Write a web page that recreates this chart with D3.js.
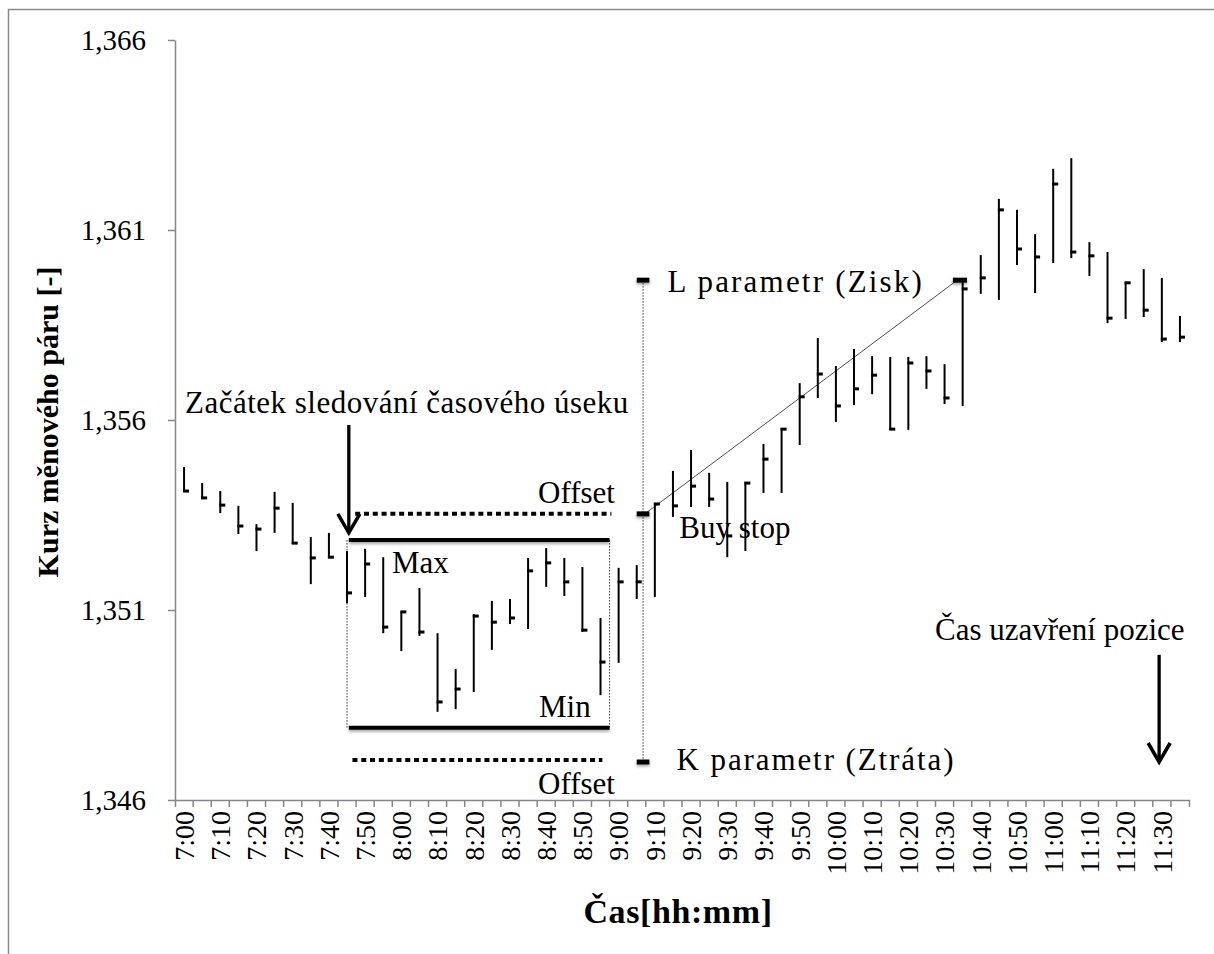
<!DOCTYPE html>
<html><head><meta charset="utf-8">
<script src="https://cdn.jsdelivr.net/npm/d3@7"></script>
<style>body{margin:0;background:#fff;} svg{display:block;}</style>
</head><body><svg id="chart" width="1214" height="954"></svg>
<script>
// ---- data ----
const categories = ["7:00","7:05","7:10","7:15","7:20","7:25","7:30","7:35","7:40","7:45",
  "7:50","7:55","8:00","8:05","8:10","8:15","8:20","8:25","8:30","8:35",
  "8:40","8:45","8:50","8:55","9:00","9:05","9:10","9:15","9:20","9:25",
  "9:30","9:35","9:40","9:45","9:50","9:55","10:00","10:05","10:10","10:15",
  "10:20","10:25","10:30","10:35","10:40","10:45","10:50","10:55","11:00","11:05",
  "11:10","11:15","11:20","11:25","11:30","11:35"];
const highs = [1.35476,1.35434,1.35413,1.35374,1.35326,1.35411,1.35382,1.35292,1.35303,1.35255,
  1.35261,1.35239,1.35095,1.35158,1.35039,1.34945,1.35089,1.35124,1.35129,1.35237,
  1.35263,1.35237,1.35213,1.35079,1.35211,1.35218,1.35382,1.35466,1.35521,1.35461,
  1.35437,1.35437,1.35537,1.35579,1.35697,1.35816,1.35742,1.35787,1.35768,1.35766,
  1.35766,1.35768,1.35747,1.35963,1.36034,1.36182,1.36153,1.36089,1.36261,1.36289,
  1.36068,1.36042,1.35963,1.35997,1.35974,1.35874];
const lows = [1.35411,1.35392,1.35355,1.35300,1.35255,1.35303,1.35274,1.35168,1.35237,1.35118,
  1.35134,1.35039,1.34992,1.35032,1.34832,1.34839,1.34884,1.34995,1.35063,1.35050,
  1.35161,1.35137,1.35042,1.34876,1.34961,1.35129,1.35134,1.35345,1.35371,1.35371,
  1.35239,1.35255,1.35408,1.35408,1.35534,1.35658,1.35595,1.35639,1.35668,1.35574,
  1.35574,1.35682,1.35642,1.35637,1.35932,1.35916,1.36008,1.35934,1.36013,1.36026,
  1.35979,1.35855,1.35866,1.35871,1.35805,1.35805];
const closes = [1.35413,1.35395,1.35376,1.35321,1.35313,1.35368,1.35276,1.35237,1.35239,1.35145,
  1.35221,1.35055,1.35095,1.35042,1.34858,1.34892,1.35084,1.35068,1.35079,1.35203,
  1.35224,1.35174,1.35047,1.34963,1.35174,1.35174,1.35379,1.35374,1.35426,1.35392,
  1.35295,1.35434,1.35497,1.35576,1.35661,1.35721,1.35637,1.35682,1.35718,1.35576,
  1.35750,1.35729,1.35658,1.35945,1.35974,1.36153,1.36050,1.36029,1.36221,1.36042,
  1.36032,1.35868,1.35961,1.35889,1.35813,1.35818];
const xTickLabels = ["7:00","7:10","7:20","7:30","7:40","7:50","8:00","8:10","8:20","8:30",
  "8:40","8:50","9:00","9:10","9:20","9:30","9:40","9:50","10:00","10:10",
  "10:20","10:30","10:40","10:50","11:00","11:10","11:20","11:30"];
const yTicks = [1.346, 1.351, 1.356, 1.361, 1.366];
const yTickLabels = ["1,346","1,351","1,356","1,361","1,366"];
// annotation levels (exchange rate values)
const levelL = 1.35968;      // L parametr (Zisk)
const levelBuyStop = 1.35353; // Buy stop / upper offset
const levelMax = 1.35284;
const levelMin = 1.34790;
const levelOffsetLow = 1.34705;
const levelK = 1.34700;      // K parametr (Ztráta)

// ---- layout ----
const svg = d3.select("#chart");
const serif = "'Liberation Serif','Times New Roman',serif";
const axisColor = "#868686";
const x = d3.scaleBand().domain(categories).range([175, 1189]).paddingInner(0).paddingOuter(0);
const y = d3.scaleLinear().domain([1.346, 1.366]).range([800, 40]);
const bw = x.bandwidth();
const xu = u => x.range()[0] + u * bw; // position in category units

const defs = svg.append("defs");
const f = defs.append("filter").attr("id","sh").attr("filterUnits","userSpaceOnUse")
  .attr("x",0).attr("y",0).attr("width",1214).attr("height",954);
f.append("feDropShadow").attr("dx",0).attr("dy",2).attr("stdDeviation",1.6).attr("flood-color","#000").attr("flood-opacity",0.35);

// outer frame
svg.append("rect").attr("x",8.5).attr("y",9.5).attr("width",1400).attr("height",1200)
  .attr("fill","none").attr("stroke","#8a8a8a").attr("stroke-width",1.5);

// y axis
const gy = svg.append("g").attr("transform","translate(175,0)")
  .call(d3.axisLeft(y).tickValues(yTicks).tickFormat((d,i)=>yTickLabels[i]).tickSize(7).tickSizeOuter(0).tickPadding(22));
gy.select(".domain").attr("stroke",axisColor).attr("stroke-width",1.5);
gy.selectAll(".tick line").attr("stroke",axisColor).attr("stroke-width",1.5);
gy.selectAll("text").attr("font-family",serif).attr("font-size",29).attr("fill","#000");

// x axis
const gx = svg.append("g").attr("transform","translate(0,800)")
  .call(d3.axisBottom(x).tickValues(xTickLabels).tickSize(0).tickSizeOuter(7));
gx.select(".domain").attr("stroke",axisColor).attr("stroke-width",1.5);
gx.selectAll(".tick line").remove();
gx.selectAll(".tick text")
  .attr("font-family",serif).attr("font-size",28).attr("fill","#000")
  .attr("transform","rotate(-90)").attr("x",-11).attr("y",0).attr("dy","0.35em")
  .style("text-anchor","end");
gx.selectAll("line.bt").data(d3.range(1, categories.length)).join("line").attr("class","bt")
  .attr("x1",i=>xu(i)).attr("x2",i=>xu(i)).attr("y1",0).attr("y2",7)
  .attr("stroke",axisColor).attr("stroke-width",1.5);

// axis titles
svg.append("text").attr("x",678).attr("y",923).attr("text-anchor","middle")
  .attr("font-family",serif).attr("font-weight","bold").attr("font-size",34).attr("letter-spacing",0.6).text("Čas[hh:mm]");
svg.append("text").attr("transform","translate(58,422) rotate(-90)").attr("text-anchor","middle")
  .attr("font-family",serif).attr("font-weight","bold").attr("font-size",30).text("Kurz měnového páru [-]");

// HLC bars
const bars = categories.map((c,i)=>({c, h:highs[i], l:lows[i], cl:closes[i]}));
const gb = svg.append("g");
gb.selectAll("line.hl").data(bars).join("line").attr("class","hl")
  .attr("x1",d=>x(d.c)+bw/2).attr("x2",d=>x(d.c)+bw/2)
  .attr("y1",d=>y(d.h)).attr("y2",d=>y(d.l))
  .attr("stroke","#000").attr("stroke-width",2);
gb.selectAll("line.cl").data(bars).join("line").attr("class","cl")
  .attr("x1",d=>x(d.c)+bw/2-1).attr("x2",d=>x(d.c)+bw/2+5)
  .attr("y1",d=>y(d.cl)).attr("y2",d=>y(d.cl))
  .attr("stroke","#000").attr("stroke-width",3);

// ---- annotations ----
const ga = svg.append("g");
// thin dotted box sides
[9.5, 24].forEach(u=>{
  ga.append("line").attr("x1",xu(u)).attr("x2",xu(u)).attr("y1",y(levelMax)).attr("y2",y(levelMin))
    .attr("stroke","#000").attr("stroke-width",0.8).attr("stroke-dasharray","1.5,1.5");
});
// vertical dotted line at entry
ga.append("line").attr("x1",xu(25.85)).attr("x2",xu(25.85)).attr("y1",y(levelL)).attr("y2",y(levelK))
  .attr("stroke","#000").attr("stroke-width",0.8).attr("stroke-dasharray","1.5,1.5");
// diagonal line buy stop -> L
ga.append("line").attr("x1",xu(25.95)).attr("y1",y(levelBuyStop)).attr("x2",xu(43.2)).attr("y2",y(levelL))
  .attr("stroke","#000").attr("stroke-width",0.7);
// max / min solid lines
[levelMax, levelMin].forEach(v=>{
  ga.append("line").attr("x1",xu(9.6)).attr("x2",xu(24)).attr("y1",y(v)).attr("y2",y(v))
    .attr("stroke","#000").attr("stroke-width",4).attr("filter","url(#sh)");
});
// offset dotted lines
ga.append("line").attr("x1",xu(9.95)).attr("x2",xu(24.1)).attr("y1",y(levelBuyStop)).attr("y2",y(levelBuyStop))
  .attr("stroke","#000").attr("stroke-width",4).attr("stroke-dasharray","5,3.8");
ga.append("line").attr("x1",xu(9.8)).attr("x2",xu(23.6)).attr("y1",y(levelOffsetLow)).attr("y2",y(levelOffsetLow))
  .attr("stroke","#000").attr("stroke-width",4).attr("stroke-dasharray","5,3.8");
// markers
[[25.5,26.2,levelL],[25.5,26.2,levelBuyStop],[25.5,26.2,levelK],[42.96,43.74,levelL]].forEach(([a,b,v])=>{
  ga.append("line").attr("x1",xu(a)).attr("x2",xu(b)).attr("y1",y(v)).attr("y2",y(v))
    .attr("stroke","#000").attr("stroke-width",5).attr("filter","url(#sh)");
});
// arrows
function arrow(u, vTop, vTip){
  const ax = xu(u), y0 = y(vTop), y1 = y(vTip);
  ga.append("line").attr("x1",ax).attr("x2",ax).attr("y1",y0).attr("y2",y1-2)
    .attr("stroke","#000").attr("stroke-width",3.3);
  ga.append("path").attr("d",`M${ax-11},${y1-19}L${ax},${y1}L${ax+11},${y1-19}`)
    .attr("fill","none").attr("stroke","#000").attr("stroke-width",3.5).attr("stroke-linejoin","miter");
}
arrow(9.6, 1.35587, 1.35303);
arrow(54.35, 1.34982, 1.34700);

// annotation texts
const labels = [
  {t:"Začátek sledování časového úseku", u:0.55, v:1.35618, ls:0.5},
  {t:"Offset", u:20.05, v:1.35382, ls:0},
  {t:"Max", u:11.98, v:1.35197, ls:0},
  {t:"Min", u:20.1, v:1.34818, ls:0},
  {t:"Offset", u:20.05, v:1.34616, ls:0},
  {t:"L parametr (Zisk)", u:27.2, v:1.35937, ls:2.2},
  {t:"Buy stop", u:27.85, v:1.35290, ls:0},
  {t:"K parametr (Ztráta)", u:27.7, v:1.34679, ls:1.9},
  {t:"Čas uzavření pozice", u:41.97, v:1.35021, ls:0}
];
ga.selectAll("text.ann").data(labels).join("text").attr("class","ann")
  .attr("x",d=>xu(d.u)).attr("y",d=>y(d.v))
  .attr("letter-spacing",d=>d.ls)
  .attr("font-family",serif).attr("font-size",31).attr("fill","#000").text(d=>d.t);
</script>
</body></html>
